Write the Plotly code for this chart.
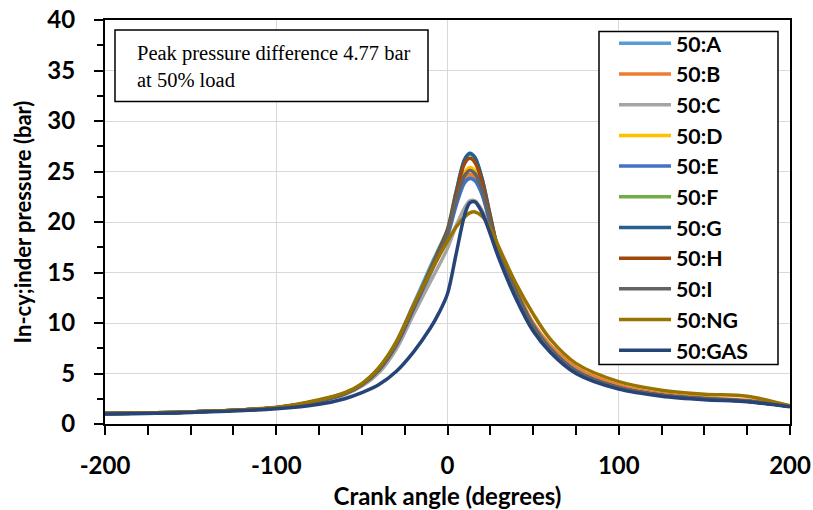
import plotly.graph_objects as go

# Crank angle (degrees)
crank_angle = [-200, -150, -100, -75, -60, -50, -40, -30, -20, -10, -5, 0, 5, 10, 13, 16,
               20, 25, 30, 40, 50, 60, 75, 100, 125, 150, 175, 200]

# In-cylinder pressure (bar) per fuel
p_A = [1.05, 1.2, 1.6, 2.35, 3.05, 3.95, 5.5, 8.1, 11.8, 15.6, 17.4, 19.2, 22.0, 24.1, 24.5, 24.3,
       22.9, 19.9, 16.9, 13.1, 9.7, 7.5, 5.3, 3.65, 2.9, 2.5, 2.25, 1.75]
p_B = [1.05, 1.2, 1.6, 2.3, 3.0, 3.9, 5.4, 7.9, 11.5, 15.2, 17.0, 18.9, 21.9, 24.3, 24.7, 24.5,
       23.1, 20.1, 17.2, 13.4, 10.0, 7.8, 5.6, 3.85, 3.0, 2.6, 2.35, 1.8]
p_C = [1.05, 1.2, 1.55, 2.25, 2.9, 3.75, 5.1, 7.4, 10.8, 14.1, 15.7, 17.4, 19.6, 21.4, 22.1, 22.1,
       21.2, 19.2, 16.6, 12.9, 9.6, 7.4, 5.2, 3.6, 2.85, 2.5, 2.25, 1.75]
p_D = [1.05, 1.2, 1.6, 2.3, 3.0, 3.9, 5.4, 7.9, 11.5, 15.2, 17.1, 19.1, 22.4, 24.9, 25.4, 25.1,
       23.5, 20.1, 17.0, 13.2, 9.8, 7.5, 5.3, 3.6, 2.85, 2.5, 2.25, 1.75]
p_E = [1.05, 1.2, 1.6, 2.3, 3.0, 3.9, 5.4, 7.8, 11.3, 14.9, 16.7, 18.6, 21.6, 23.9, 24.3, 24.1,
       22.8, 19.8, 16.9, 13.1, 9.8, 7.5, 5.3, 3.6, 2.85, 2.5, 2.25, 1.75]
p_F = [1.05, 1.2, 1.6, 2.3, 3.0, 3.95, 5.5, 8.0, 11.6, 15.4, 17.3, 19.3, 23.0, 26.1, 26.7, 26.3,
       24.4, 20.6, 17.1, 13.2, 9.7, 7.4, 5.2, 3.6, 2.85, 2.5, 2.25, 1.75]
p_G = [1.05, 1.2, 1.6, 2.3, 3.0, 3.9, 5.4, 7.9, 11.5, 15.3, 17.2, 19.2, 22.9, 26.2, 26.8, 26.4,
       24.4, 20.6, 17.0, 13.1, 9.6, 7.4, 5.2, 3.6, 2.85, 2.5, 2.25, 1.75]
p_H = [1.05, 1.2, 1.6, 2.3, 3.0, 3.9, 5.4, 7.9, 11.5, 15.2, 17.1, 19.1, 22.6, 25.8, 26.3, 25.9,
       24.1, 20.4, 17.0, 13.1, 9.7, 7.4, 5.2, 3.6, 2.85, 2.5, 2.25, 1.75]
p_I = [1.05, 1.2, 1.6, 2.3, 3.0, 3.9, 5.35, 7.8, 11.4, 15.1, 16.9, 18.9, 22.1, 24.6, 25.1, 24.8,
       23.3, 20.0, 17.0, 13.1, 9.7, 7.4, 5.2, 3.6, 2.85, 2.5, 2.25, 1.75]
p_NG = [1.05, 1.2, 1.65, 2.4, 3.1, 4.0, 5.6, 8.1, 11.7, 15.0, 16.6, 18.1, 19.5, 20.5, 20.9, 21.0,
        20.6, 19.4, 17.5, 13.9, 10.9, 8.4, 6.0, 4.2, 3.35, 2.95, 2.75, 1.8]
p_GAS = [1.0, 1.15, 1.5, 1.95, 2.5, 3.1, 3.9, 5.2, 7.1, 9.5, 11.0, 12.9, 16.8, 20.7, 21.9, 22.0,
         21.0, 18.8, 16.4, 12.4, 9.2, 7.1, 5.0, 3.45, 2.75, 2.4, 2.2, 1.7]

series_names = ["50:A", "50:B", "50:C", "50:D", "50:E", "50:F", "50:G", "50:H", "50:I", "50:NG", "50:GAS"]
series_values = [p_A, p_B, p_C, p_D, p_E, p_F, p_G, p_H, p_I, p_NG, p_GAS]
series_colors = ["#5B9BD5", "#ED7D31", "#A5A5A5", "#FFC000", "#4472C4", "#70AD47",
                 "#255E91", "#9E480E", "#636363", "#997300", "#264478"]

x_tickvals = [-200, -100, 0, 100, 200]
x_ticktext = ["-200", "-100", "0", "100", "200"]
y_tickvals = [0, 5, 10, 15, 20, 25, 30, 35, 40]

annotation_text = "Peak pressure difference 4.77 bar<br>at 50% load"

FONT = "Lato"
W, H = 813, 510
ML, MR, MT, MB = 105, 23, 20, 86
PW, PH = W - ML - MR, H - MT - MB


def px_x(px):
    return (px - ML) / PW


def px_y(py):
    return (H - MB - py) / PH


fig = go.Figure()
for name, vals, col in zip(series_names, series_values, series_colors):
    fig.add_trace(go.Scatter(
        x=crank_angle, y=vals, name=name, mode="lines",
        line=dict(color=col, width=3.5, shape="spline", smoothing=0.9),
    ))

axis_common = dict(
    showline=True, linecolor="black", linewidth=2, mirror=True,
    ticks="outside", ticklen=9, tickwidth=2, tickcolor="black",
    showgrid=True, gridcolor="#D9D9D9", gridwidth=1.3,
    zeroline=False, automargin=False,
    tickfont=dict(family=FONT, size=24, color="black", weight="bold"),
)

fig.update_xaxes(
    range=[-200, 200], tickmode="array", tickvals=x_tickvals, ticktext=x_ticktext,
    minor=dict(dtick=25, tick0=-200, ticks="outside", ticklen=9, tickwidth=2, tickcolor="black", showgrid=False),
    ticklabelstandoff=10,
    title=dict(text="Crank angle (degrees)", font=dict(family=FONT, size=24, color="black", weight="bold"), standoff=10),
    **axis_common,
)
fig.update_yaxes(
    range=[0, 40], tickmode="array", tickvals=y_tickvals,
    minor=dict(dtick=2.5, ticks="outside", ticklen=6, tickwidth=2, tickcolor="black", showgrid=False),
    ticklabelstandoff=14,
    title=dict(text="In-cy;inder pressure (bar)", font=dict(family=FONT, size=22, color="black", weight="bold"), standoff=10),
    **axis_common,
)

# annotation box
fig.add_shape(type="rect", xref="paper", yref="paper",
              x0=px_x(115), x1=px_x(428), y0=px_y(101.5), y1=px_y(30),
              line=dict(color="black", width=1.5), fillcolor="white", layer="above")
fig.add_annotation(xref="paper", yref="paper", x=px_x(135), y=px_y(66),
                   xanchor="left", yanchor="middle", align="left", showarrow=False,
                   text=annotation_text,
                   font=dict(family="Liberation Serif", size=20.5, color="black"))

# legend frame
fig.add_shape(type="rect", xref="paper", yref="paper",
              x0=px_x(599), x1=px_x(778), y0=px_y(364.5), y1=px_y(31.5),
              line=dict(color="black", width=1.5), fillcolor="white", layer="above")

fig.update_layout(
    width=W, height=H,
    margin=dict(l=ML, r=MR, t=MT, b=MB, autoexpand=False),
    plot_bgcolor="white", paper_bgcolor="white",
    showlegend=True,
    legend=dict(
        x=px_x(614), y=px_y(23), xanchor="left", yanchor="top",
        bgcolor="rgba(0,0,0,0)", borderwidth=0,
        font=dict(family=FONT, size=21.3, color="black", weight="bold"),
        tracegroupgap=0, itemwidth=52, maxheight=480,
    ),
)

fig.write_html("out.html")
